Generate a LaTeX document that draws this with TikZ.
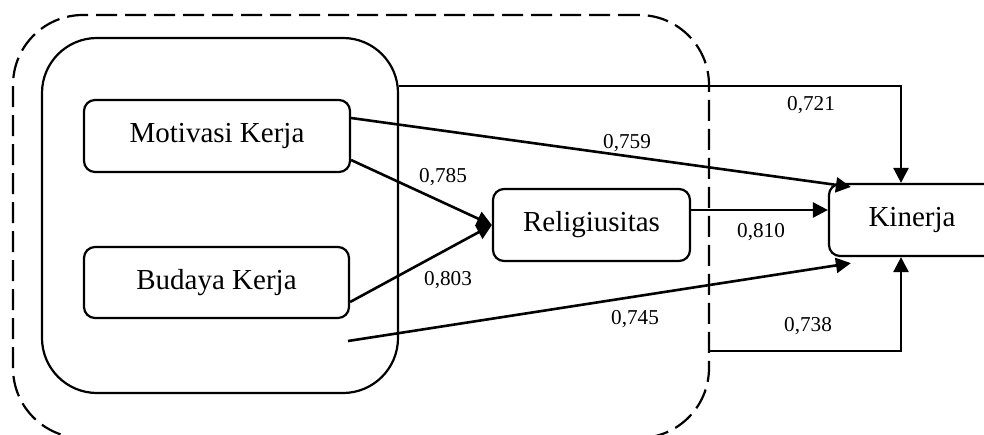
\documentclass[tikz,border=0pt]{standalone}
\usepackage{fontspec}
\setmainfont{Liberation Serif}
\usetikzlibrary{arrows.meta,calc}
\begin{document}
\begin{tikzpicture}[x=0.5pt,y=-0.5pt,
  box/.style={draw,line width=1.1pt,rounded corners=5.5pt,inner sep=0pt,font=\fontsize{14.5}{16}\selectfont},
  arr/.style={line width=1.3pt,-{Triangle[length=7.5pt,width=7.5pt]}},
  num/.style={font=\fontsize{10.6}{12}\selectfont,inner sep=0pt}]
\useasboundingbox (0,0) rectangle (984,434);
% containers
\node[draw,dashed,dash pattern=on 10.5pt off 4pt,line width=1.1pt,rounded corners=35pt,minimum width=348pt,minimum height=211.5pt,inner sep=0pt] (outer) at (361,226.5) {};
\node[draw,line width=1.1pt,rounded corners=27.5pt,minimum width=178pt,minimum height=177.5pt,inner sep=0pt] (inner) at (220,215.5) {};
% boxes
\node[box,minimum width=133pt,minimum height=36pt] (mot) at (217,136) {Motivasi Kerja};
\node[box,minimum width=132.5pt,minimum height=35.5pt] (bud) at (216.5,282.5) {Budaya Kerja};
\node[box,minimum width=98.5pt,minimum height=36pt] (rel) at (591.5,225) {Religiusitas};
\node[box,minimum width=85.5pt,minimum height=36pt,text width=70pt,align=left] (kin) at (914.5,220) {\hspace{12pt}Kinerja};
% helper coordinates
\coordinate (kx) at (901,0);
\coordinate (ty) at (0,86);
\coordinate (by) at (0,351);
\coordinate (free) at (348,341);
\coordinate (rs) at ([yshift=7.5pt]rel.east);
% connectors
\draw[arr] (inner.east |- ty) -| (kin.north -| kx);
\draw[arr] ([yshift=9pt]mot.east) -- ([xshift=11.5pt,yshift=-2pt]kin.north west);
\draw[arr] ([yshift=-12pt]mot.east) -- (rel.west);
\draw[arr] ([yshift=-9.75pt]bud.east) -- (rel.west);
\draw[arr] (rs) -- (kin.west |- rs);
\draw[arr] (free) -- ([xshift=11.5pt,yshift=-3pt]kin.south west);
\draw[arr] (outer.east |- by) -| (kin.south -| kx);
% labels
\node[num] at (811,105) {0,721};
\node[num] at (627,143) {0,759};
\node[num] at (443,177) {0,785};
\node[num] at (761,232) {0,810};
\node[num] at (448,280) {0,803};
\node[num] at (635,319) {0,745};
\node[num] at (808,326) {0,738};
\end{tikzpicture}
\end{document}
